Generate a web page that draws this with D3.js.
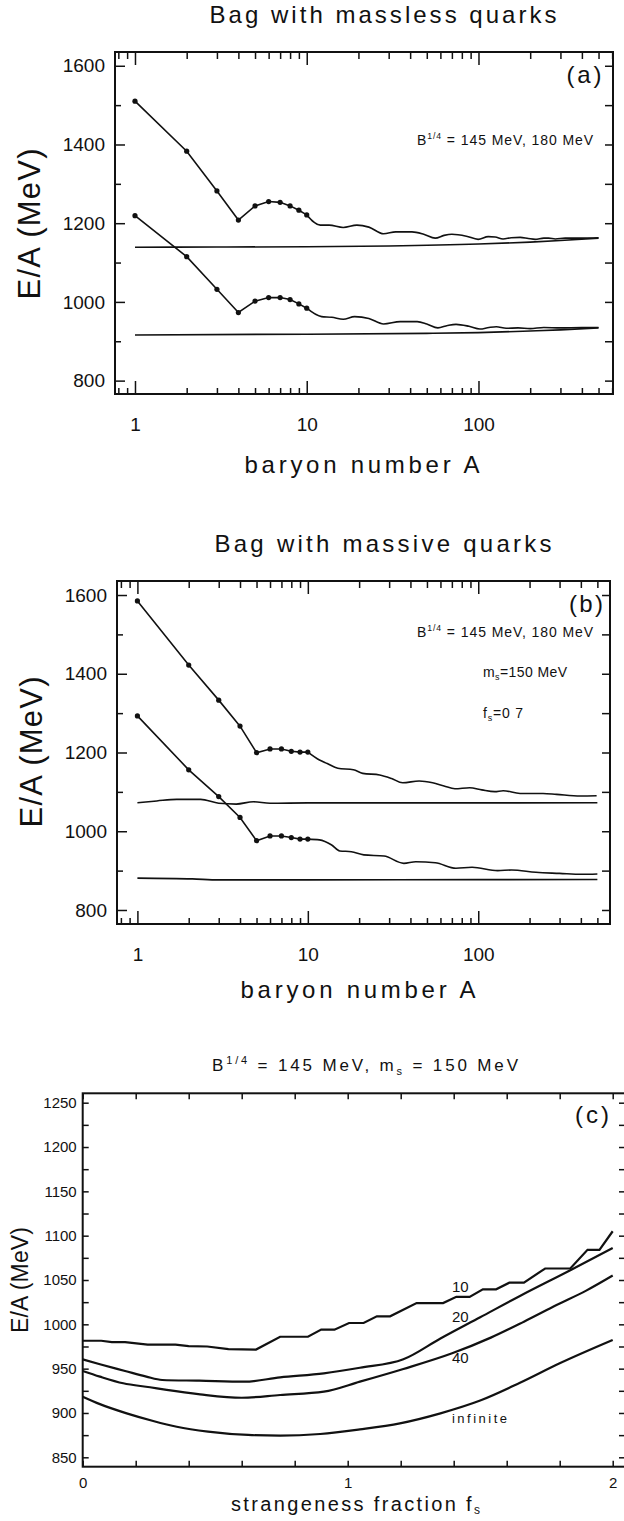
<!DOCTYPE html>
<html><head><meta charset="utf-8">
<script src="https://cdn.jsdelivr.net/npm/d3@7"></script>
<style>
body{margin:0;background:#fff;}
svg{display:block;}
text{font-family:"Liberation Sans", Arial, sans-serif; fill:#111;}
</style></head><body>
<svg id="chart" width="624" height="1521"></svg>
<script>
// ---------------- DATA ----------------
// Panel (a): bag with massless quarks, B^1/4 = 180 (upper) and 145 MeV (lower)
const dotA = [1,2,3,4,5,6,7,8,9,10];
const aUpperDotE = [1510,1383,1282,1208,1244,1255,1253,1244,1233,1221];
const aUpperTailA = [10,12,13.5,16.3,19.6,23,28,33,41,48,56,63,70,85,99.5,114,125,139,155,175,195,214,240,256,280,320,400,500];
const aUpperTailE = [1221,1195,1195,1189,1195,1190,1173,1178,1178,1172,1162,1169,1172,1167,1159,1166,1165,1160,1163,1164,1161,1159,1162,1162,1160,1162,1162,1163];
const aUpperFlatA = [1,3,10,30,100,200,300,500];
const aUpperFlatE = [1139,1139.5,1140,1142,1147,1152,1156,1162];
const aLowerDotE = [1219,1115,1032,973,1002,1011,1011,1006,995,984];
const aLowerTailA = [10,12.2,14,16.3,19,23,28,35,44,50,58,66,74,88,102,115,127,145,170,200,240,300,400,500];
const aLowerTailE = [984,962.5,961,956,962.5,958,944,950,950,944,934,940,943,938,931,935,937,933,934,932,935,934,935,935];
const aLowerFlatA = [1,10,50,100,200,300,500];
const aLowerFlatE = [916,918,920,922,926,929,934];

// Panel (b): bag with massive quarks, m_s = 150 MeV, f_s = 0.7
const bUpperDotE = [1585,1422,1333,1267,1199.5,1209,1209,1203,1201,1201];
const bUpperTailA = [10,11.7,13,15,18.5,21,26.4,31,36,45,54,63,73,89,105,125,140,176,240,288,397,495];
const bUpperTailE = [1201,1181,1172,1160,1156,1147,1143,1134,1123,1127.6,1123,1115,1108,1110.6,1105,1100.5,1103,1096,1096,1093.6,1089.5,1090];
const bUpperFlatA = [1,1.3,1.7,2.35,3,3.8,4.8,6,10,50,500];
const bUpperFlatE = [1072.5,1077,1081,1081,1071,1069,1075,1071,1072,1072,1072.5];
const bLowerDotE = [1293,1156,1088,1035,976,988,988,984,980,980];
const bLowerTailA = [10,11.7,13.8,15.4,18,21.3,28,36.6,43,56,74,92,130,157,218,300,405,500];
const bLowerTailE = [980,978,965,950,948,940,937,918.5,922.7,920,906,908.4,900,901.6,895.7,893,890.6,891.4];
const bLowerFlatA = [1,2.1,3,10,100,500];
const bLowerFlatE = [881,879,876.5,876.5,877,877.5];

// Panel (c): E/A vs strangeness fraction for A = 10, 20, 40, infinite
const fs10 = [0,0.07,0.11,0.16,0.245,0.35,0.40,0.47,0.55,0.654,0.745,0.85,0.90,0.95,1.005,1.06,1.11,1.16,1.26,1.36,1.41,1.46,1.51,1.56,1.61,1.665,1.745,1.84,1.905,1.95,2.0];
const e10  = [981.5,981.5,980,980,977,977,975.5,975,972,971.5,986,986,994,994,1001.5,1001.5,1009,1009,1024,1024,1031,1031,1039.5,1039.5,1047,1047,1063,1063,1084,1084,1105];
const fs20 = [0,0.065,0.16,0.24,0.30,0.44,0.61,0.745,0.91,1.046,1.21,1.35,1.5,1.65,1.84,2.0];
const e20  = [960.5,955,947.4,941,937.2,936.4,935.3,940.2,944.7,951,960.5,984,1008,1032,1061,1086];
const fs40 = [0,0.065,0.153,0.254,0.317,0.443,0.6,0.745,0.91,1.046,1.21,1.394,1.54,1.665,1.79,1.9,2.0];
const e40  = [947.4,941,933.5,929,926,921,917.2,920.3,924,935.3,949.6,967.3,985,1003,1022,1038,1055];
const fsInf = [0,0.065,0.166,0.266,0.355,0.473,0.624,0.745,0.896,1.046,1.197,1.35,1.5,1.65,1.8,2.0];
const eInf  = [918.4,910,899.6,891,884.5,879,875.2,874.4,876.3,881.5,888.3,899.6,914,934,956,982.3];

// tick values
const logMajor = [1,10,100];
const logMinor = [0.8,0.9,2,3,4,5,6,7,8,9,20,30,40,50,60,70,80,90,200,300,400,500,600];
const abMajorY = [800,1000,1200,1400,1600];
const abMinorY = [900,1100,1300,1500];
const cMajorY = [850,900,950,1000,1050,1100,1150,1200,1250];
const cMinorY = [875,925,975,1025,1075,1125,1175,1225];
const cTicksX = [0,0.2,0.4,0.6,0.8,1.0,1.2,1.4,1.6,1.8,2.0];
const cLabelX = [0,1,2];

// ---------------- DRAWING ----------------
const svg = d3.select("#chart");
const zip = (xs, ys) => xs.map((v,i)=>[v, ys[i]]);

function noDomain(sel){ sel.select(".domain").remove(); }

function logPanel(cfg){
  const g = svg.append("g");
  const x = d3.scaleLog().domain(cfg.xd).range([cfg.l, cfg.r]);
  const y = d3.scaleLinear().domain(cfg.yd).range([cfg.b, cfg.t]);
  const minor = logMinor.filter(v => v > cfg.xd[0] && v < cfg.xd[1]);
  // bottom
  g.append("g").attr("transform",`translate(0,${cfg.b})`)
    .call(d3.axisBottom(x).tickValues(logMajor).tickSize(-13).tickSizeOuter(0).tickPadding(24).tickFormat(d3.format("d")))
    .call(noDomain).call(s=>s.selectAll("text").attr("font-size",19).attr("fill","#111").attr("font-family","Liberation Sans"));
  g.append("g").attr("transform",`translate(0,${cfg.b})`)
    .call(d3.axisBottom(x).tickValues(minor).tickSize(-6).tickSizeOuter(0).tickFormat(""))
    .call(noDomain);
  // top
  g.append("g").attr("transform",`translate(0,${cfg.t})`)
    .call(d3.axisTop(x).tickValues(logMajor).tickSize(-13).tickSizeOuter(0).tickFormat(""))
    .call(noDomain);
  g.append("g").attr("transform",`translate(0,${cfg.t})`)
    .call(d3.axisTop(x).tickValues(minor).tickSize(-7).tickSizeOuter(0).tickFormat(""))
    .call(noDomain);
  // left
  g.append("g").attr("transform",`translate(${cfg.l},0)`)
    .call(d3.axisLeft(y).tickValues(abMajorY).tickSize(-10).tickSizeOuter(0).tickPadding(10).tickFormat(d3.format("d")))
    .call(noDomain).call(s=>s.selectAll("text").attr("font-size",19).attr("fill","#111").attr("font-family","Liberation Sans"));
  g.append("g").attr("transform",`translate(${cfg.l},0)`)
    .call(d3.axisLeft(y).tickValues(abMinorY).tickSize(-6).tickSizeOuter(0).tickFormat(""))
    .call(noDomain);
  // right
  g.append("g").attr("transform",`translate(${cfg.r},0)`)
    .call(d3.axisRight(y).tickValues(abMajorY.concat(abMinorY)).tickSize(-8).tickSizeOuter(0).tickFormat(""))
    .call(noDomain);
  g.selectAll(".tick line").attr("stroke","#111").attr("stroke-width",1.5);
  // frame
  g.append("rect").attr("x",cfg.l).attr("y",cfg.t).attr("width",cfg.r-cfg.l).attr("height",cfg.b-cfg.t)
    .attr("fill","none").attr("stroke","#111").attr("stroke-width",2);

  const lin = d3.line().x(d=>x(d[0])).y(d=>y(d[1]));
  const smooth = d3.line().x(d=>x(d[0])).y(d=>y(d[1])).curve(d3.curveMonotoneX);
  const lines = g.append("g").attr("fill","none").attr("stroke","#111").attr("stroke-width",1.6);
  cfg.series.forEach(s=>{
    lines.append("path").attr("d", lin(zip(dotA, s.dots)));
    lines.append("path").attr("d", smooth(zip(s.tailA, s.tailE)));
    lines.append("path").attr("d", smooth(zip(s.flatA, s.flatE)));
    g.append("g").selectAll("circle").data(zip(dotA, s.dots)).join("circle")
      .attr("cx",d=>x(d[0])).attr("cy",d=>y(d[1])).attr("r",2.6).attr("fill","#111");
  });
  return {g,x,y};
}

function addText(txt, x, y, size, opts={}){
  const t = svg.append("text").attr("x",x).attr("y",y).attr("font-size",size)
    .attr("text-anchor", opts.anchor || "start");
  if (opts.len) t.attr("textLength",opts.len).attr("lengthAdjust","spacing");
  if (opts.rotate) t.attr("transform",`rotate(-90,${x},${y})`);
  if (typeof txt === "string") t.text(txt);
  else txt.forEach(p=>{
    const ts = t.append("tspan").text(p.t);
    if (p.dy) ts.attr("dy",p.dy);
    if (p.size) ts.attr("font-size",p.size);
  });
  return t;
}
const b14 = (size) => [{t:"B"},{t:"1/4",dy:-0.45*size,size:size*0.62},{t:" = 145 MeV, ",dy:0.45*size}];

// Panel (a)
logPanel({l:115,r:613,t:52,b:394,xd:[0.765,607],yd:[766,1635],
  series:[
    {dots:aUpperDotE, tailA:aUpperTailA, tailE:aUpperTailE, flatA:aUpperFlatA, flatE:aUpperFlatE},
    {dots:aLowerDotE, tailA:aLowerTailA, tailE:aLowerTailE, flatA:aLowerFlatA, flatE:aLowerFlatE}
  ]});
addText("Bag with massless quarks", 383, 23, 24, {anchor:"middle", len:347});
addText("baryon number A", 362, 473, 24, {anchor:"middle", len:235});
addText("E/A  (MeV)", 40, 224, 31, {anchor:"middle", len:151, rotate:true});
addText("(a)", 584, 83, 24, {anchor:"middle", len:35});
addText(b14(14).concat([{t:"180 MeV"}]), 417, 145, 14, {len:176});

// Panel (b)
logPanel({l:117,r:610,t:581,b:924,xd:[0.759,593],yd:[764.4,1635.6],
  series:[
    {dots:bUpperDotE, tailA:bUpperTailA, tailE:bUpperTailE, flatA:bUpperFlatA, flatE:bUpperFlatE},
    {dots:bLowerDotE, tailA:bLowerTailA, tailE:bLowerTailE, flatA:bLowerFlatA, flatE:bLowerFlatE}
  ]});
addText("Bag with massive quarks", 383, 552, 24, {anchor:"middle", len:337});
addText("baryon number A", 358, 998, 24, {anchor:"middle", len:235});
addText("E/A  (MeV)", 42, 752, 31, {anchor:"middle", len:151, rotate:true});
addText("(b)", 586, 612, 24, {anchor:"middle", len:34});
addText(b14(14).concat([{t:"180 MeV"}]), 417, 637, 14, {len:176});
addText([{t:"m"},{t:"s",dy:3,size:9},{t:"=150  MeV",dy:-3}], 483, 677, 14, {len:84});
addText([{t:"f"},{t:"s",dy:3,size:9},{t:"=0 7",dy:-3}], 483, 718, 14, {len:40});

// Panel (c)
(function(){
  const l=82.7, r=625, t=1093.3, b=1466.7;
  const g = svg.append("g");
  const x = d3.scaleLinear().domain([0, 2.0464]).range([l, r]);
  const y = d3.scaleLinear().domain([839.4, 1260.6]).range([b, t]);
  g.append("g").attr("transform",`translate(0,${b})`)
    .call(d3.axisBottom(x).tickValues(cTicksX).tickSize(-6).tickSizeOuter(0).tickFormat(""))
    .call(noDomain);
  g.append("g").attr("transform",`translate(0,${b})`)
    .call(d3.axisBottom(x).tickValues(cLabelX).tickSize(0).tickSizeOuter(0).tickPadding(11).tickFormat(d3.format("d")))
    .call(noDomain).call(s=>s.selectAll("text").attr("font-size",15).attr("fill","#111").attr("font-family","Liberation Sans"));
  g.append("g").attr("transform",`translate(0,${t})`)
    .call(d3.axisTop(x).tickValues(cTicksX).tickSize(-6).tickSizeOuter(0).tickFormat(""))
    .call(noDomain);
  g.append("g").attr("transform",`translate(${l},0)`)
    .call(d3.axisLeft(y).tickValues(cMajorY).tickSize(-6).tickSizeOuter(0).tickPadding(6).tickFormat(d3.format("d")))
    .call(noDomain).call(s=>s.selectAll("text").attr("font-size",15).attr("fill","#111").attr("font-family","Liberation Sans"));
  g.append("g").attr("transform",`translate(${l},0)`)
    .call(d3.axisLeft(y).tickValues(cMinorY).tickSize(-6).tickSizeOuter(0).tickFormat(""))
    .call(noDomain);
  g.append("g").attr("transform",`translate(${r},0)`)
    .call(d3.axisRight(y).tickValues(cMajorY.concat(cMinorY)).tickSize(-6).tickSizeOuter(0).tickFormat(""))
    .call(noDomain);
  g.selectAll(".tick line").attr("stroke","#111").attr("stroke-width",1.5);
  g.append("rect").attr("x",l).attr("y",t).attr("width",r-l).attr("height",b-t)
    .attr("fill","none").attr("stroke","#111").attr("stroke-width",2);
  const lin = d3.line().x(d=>x(d[0])).y(d=>y(d[1]));
  const smooth = d3.line().x(d=>x(d[0])).y(d=>y(d[1])).curve(d3.curveMonotoneX);
  const lines = g.append("g").attr("fill","none").attr("stroke","#111").attr("stroke-width",2.2);
  lines.append("path").attr("d", lin(zip(fs10,e10)));
  lines.append("path").attr("d", smooth(zip(fs20,e20)));
  lines.append("path").attr("d", smooth(zip(fs40,e40)));
  lines.append("path").attr("d", smooth(zip(fsInf,eInf)));
})();
addText([{t:"B"},{t:"1/4",dy:-7,size:11},{t:" = 145 MeV,  m",dy:7},{t:"s",dy:4,size:11},{t:" = 150 MeV",dy:-4}], 365, 1071, 17, {anchor:"middle", len:306});
addText("(c)", 592, 1123, 24, {anchor:"middle", len:34});
addText("10", 452, 1292, 15);
addText("20", 452, 1322, 15);
addText("40", 452, 1363, 15);
addText("infinite", 452, 1423, 13, {len:55});
addText([{t:"strangeness fraction f"},{t:"s",dy:3,size:12}], 231, 1511, 20, {len:249});
addText("E/A  (MeV)", 28, 1280, 23, {anchor:"middle", len:106, rotate:true});
</script>
</body></html>
